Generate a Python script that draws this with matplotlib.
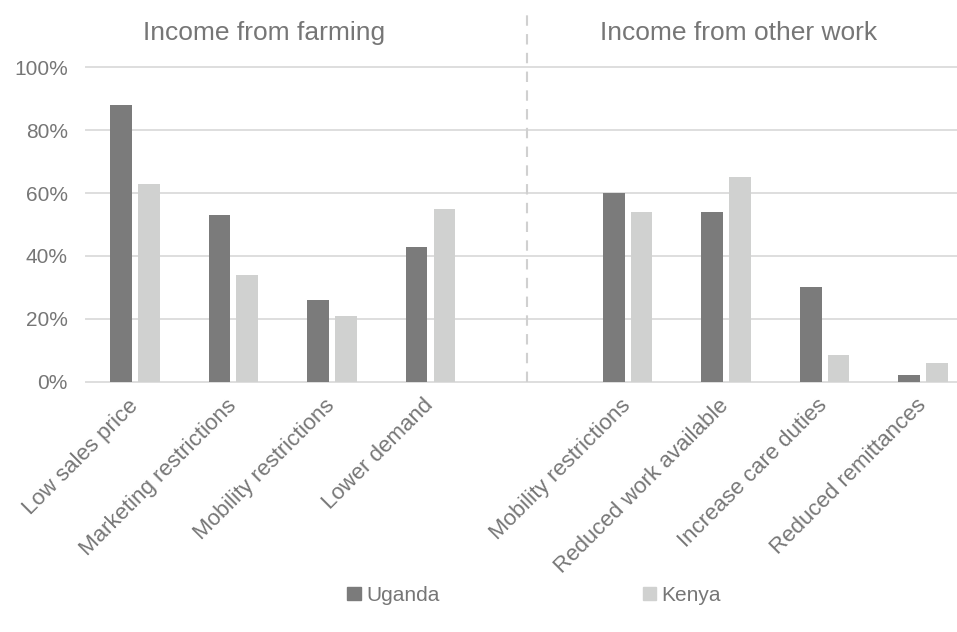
import matplotlib.pyplot as plt
from matplotlib.patches import Patch
import numpy as np

categories = ['Low sales price', 'Marketing restrictions', 'Mobility restrictions', 'Lower demand', '',
              'Mobility restrictions', 'Reduced work available', 'Increase care duties', 'Reduced remittances']
uganda = [0.88, 0.53, 0.26, 0.43, np.nan, 0.60, 0.54, 0.30, 0.02]
kenya = [0.63, 0.34, 0.21, 0.55, np.nan, 0.54, 0.65, 0.085, 0.06]
section_titles = ['Income from farming', 'Income from other work']
yticks = [0, 0.2, 0.4, 0.6, 0.8, 1.0]

c_uganda = '#7b7b7b'
c_kenya = '#d0d1d0'
txt = '#767676'
grid_c = '#dedede'

plt.rcParams['font.family'] = ['Liberation Sans', 'DejaVu Sans']

fig = plt.figure(figsize=(9.57, 6.32), dpi=100)
ax = fig.add_axes([0.0899, 0.396, 0.9101, 0.4975])

x = np.arange(len(categories))
w = 0.223
off = 0.142
ax.bar(x - off, uganda, w, color=c_uganda, zorder=3)
ax.bar(x + off, kenya, w, color=c_kenya, zorder=3)

ax.set_xlim(-0.497, 8.345)
ax.set_ylim(0, 1.0)
ax.set_yticks(yticks)
ax.set_yticklabels(['%d%%' % round(v * 100) for v in yticks])
for v in yticks:
    ax.axhline(v, color=grid_c, lw=1.4, zorder=1, clip_on=False)

ax.set_xticks(x)
ax.set_xticklabels(categories, rotation=45, ha='right', va='center', rotation_mode='anchor')
ax.tick_params(axis='both', length=0, labelcolor=txt)
ax.tick_params(axis='x', pad=15, labelsize=16)
ax.tick_params(axis='y', pad=13, labelsize=15)
for s in ax.spines.values():
    s.set_visible(False)

# separator between the two groups
ax.plot([3.977, 3.977], [0, 1.17], color='#d0d0d0', lw=1.5, ls=(0, (5, 4)), clip_on=False, zorder=2)

ax.text(1.31, 1.109, section_titles[0], ha='center', va='center', fontsize=19, color=txt)
ax.text(6.13, 1.109, section_titles[1], ha='center', va='center', fontsize=19, color=txt)

handles = [Patch(color=c_uganda, label='Uganda'), Patch(color=c_kenya, label='Kenya')]
fig.legend(handles=handles, loc='center', bbox_to_anchor=(0.558, 0.058), ncol=2, frameon=False,
           fontsize=15, labelcolor=txt, handlelength=0.65, handleheight=0.65, handletextpad=0.25,
           columnspacing=9.75)

fig.savefig('out.png', dpi=100)
